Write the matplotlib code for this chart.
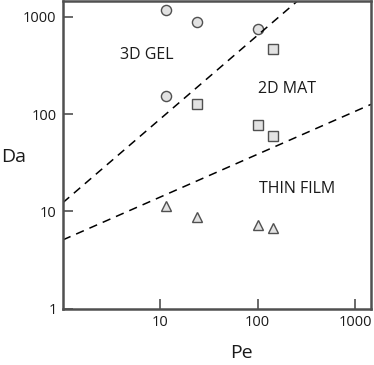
import numpy as np
import matplotlib
matplotlib.use("Agg")
from matplotlib import pyplot as plt

plt.rcParams['font.family'] = ['Open Sans', 'DejaVu Sans']

# data
gel_pe = [11.5, 23.6, 100, 11.5]
gel_da = [1180, 890, 750, 153]
mat_pe = [145, 23.6, 100, 145]
mat_da = [468, 127, 77, 59]
film_pe = [11.5, 23.6, 100, 145]
film_da = [11.3, 8.7, 7.2, 6.7]

# dashed boundaries: Da = coef * Pe ** expo
bound_coef = [12.3, 5.1]
bound_expo = [0.86, 0.44]

region_labels = ["3D GEL", "2D MAT", "THIN FILM"]
region_pe = [7.3, 200, 257]
region_da = [406, 181, 16.9]

tick_vals = [1, 10, 100, 1000]
tick_labels = ["1", "10", "100", "1000"]

fig = plt.figure(figsize=(3.74, 3.65), dpi=100)
ax = fig.add_axes([0.168, 0.154, 0.824, 0.844])
ax.set_xscale("log")
ax.set_yscale("log")
ax.set_xlim(1, 1460)
ax.set_ylim(1, 1460)

edge = "#505050"
fill = "#e2e2e2"
ax.plot(gel_pe, gel_da, "o", ms=7.3, mfc=fill, mec=edge, mew=1.0, ls="none")
ax.plot(mat_pe, mat_da, "s", ms=6.6, mfc=fill, mec=edge, mew=1.0, ls="none")
ax.plot(film_pe, film_da, "^", ms=7.6, mfc=fill, mec=edge, mew=1.0, ls="none")

pe = np.logspace(0, np.log10(1460), 50)
for c, e in zip(bound_coef, bound_expo):
    ax.plot(pe, c * pe ** e, color="black", lw=1.1, dashes=(5.5, 4))

for lab, x, y in zip(region_labels, region_pe, region_da):
    ax.text(x, y, lab, fontsize=11.5, ha="center", va="center", color="#1a1a1a")

ax.set_xticks(tick_vals[1:])
ax.set_xticklabels(tick_labels[1:])
ax.set_yticks(tick_vals)
ax.set_yticklabels(tick_labels)
ax.minorticks_off()
ax.tick_params(direction="in", length=7, width=1.2, color=edge, labelsize=10.5,
               labelcolor="#1a1a1a", pad=4.5)

for s in ax.spines.values():
    s.set_color(edge)
    s.set_linewidth(1.8)

ax.set_xlabel("Pe", fontsize=14, color="#1a1a1a", va="center", ha="center")
ax.xaxis.set_label_coords(0.581, -0.143)
ax.set_ylabel("Da", fontsize=14, rotation=0, color="#1a1a1a", va="center", ha="center")
ax.yaxis.set_label_coords(-0.159, 0.494)

fig.savefig("out.png", dpi=100)
